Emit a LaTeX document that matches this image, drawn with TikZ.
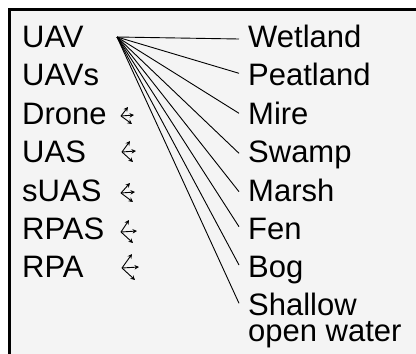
\documentclass[tikz,border=0pt]{standalone}
\usepackage{fontspec}
\setmainfont{Liberation Sans}
\usetikzlibrary{arrows.meta}
\definecolor{panel}{RGB}{244,244,244}
\begin{document}
\begin{tikzpicture}[x=1pt,y=-1pt,
  term/.style={anchor=base west,inner sep=0pt,font=\fontsize{31}{26}\selectfont},
  link/.style={line width=0.9pt},
  fanarrow/.style={line width=0.9pt,-{Stealth[length=4.5pt,width=4.5pt]}}]
\useasboundingbox (0,0) rectangle (416,354);
% framed panel, running off the right and bottom edges
\begin{scope}
  \clip (0,0) rectangle (416,354);
  \draw[line width=3pt,fill=panel] (9,9) rectangle (440,380);
\end{scope}

% left column: vehicle terms
\node[term] (uav)  at (22,47)    {UAV};
\node[term] (uavs) at (22,85.5)  {UAVs};
\node[term] (drone) at (22,124)  {Drone};
\node[term] (uas)  at (22,162)   {UAS};
\node[term] (suas) at (22,201)   {sUAS};
\node[term] (rpas) at (22,239)   {RPAS};
\node[term] (rpa)  at (22,277)   {RPA};

% right column: wetland terms
\node[term] (wetland)  at (248,47)    {Wetland};
\node[term] (peatland) at (248,85.5)  {Peatland};
\node[term] (mire)     at (248,124)   {Mire};
\node[term] (swamp)    at (248,162)   {Swamp};
\node[term] (marsh)    at (248,201)   {Marsh};
\node[term] (fen)      at (248,239)   {Fen};
\node[term] (bog)      at (248,277)   {Bog};
% two-line label, placed by the baseline of its last line
\node[term,align=left] (shallow) at (248,341.5) {Shallow\\open water};

% fan of links from UAV to every wetland term
\coordinate (hub) at (117,37);
\foreach \tgt/\ty in {wetland/39, peatland/73.3, mire/113.3, swamp/153.3,
                      marsh/191.7, fen/226.7, bog/265, shallow/303.3} {
  \coordinate (\tgt-in) at (239,\ty);
  \draw[link] (hub) -- (\tgt-in);
}

% small three-way arrow marks beside the other vehicle terms
\foreach \name/\vx/\vy/\ux/\uy/\rx/\ry/\dx/\dy in {
    drone/121/116/7/-9/13/-1/11/8,
    uas/122/152/8/-11/14/-1/11/10,
    suas/121/193/9/-10/14/-1/12/9,
    rpas/121/232/8/-12/16/-1/12/11,
    rpa/122/268/10/-14/17/-1/13/12} {
  \coordinate (\name-fan) at (\vx,\vy);
  \draw[fanarrow] (\name-fan) -- ++(\ux,\uy);
  \draw[fanarrow] (\name-fan) -- ++(\rx,\ry);
  \draw[fanarrow] (\name-fan) -- ++(\dx,\dy);
}
\end{tikzpicture}
\end{document}
